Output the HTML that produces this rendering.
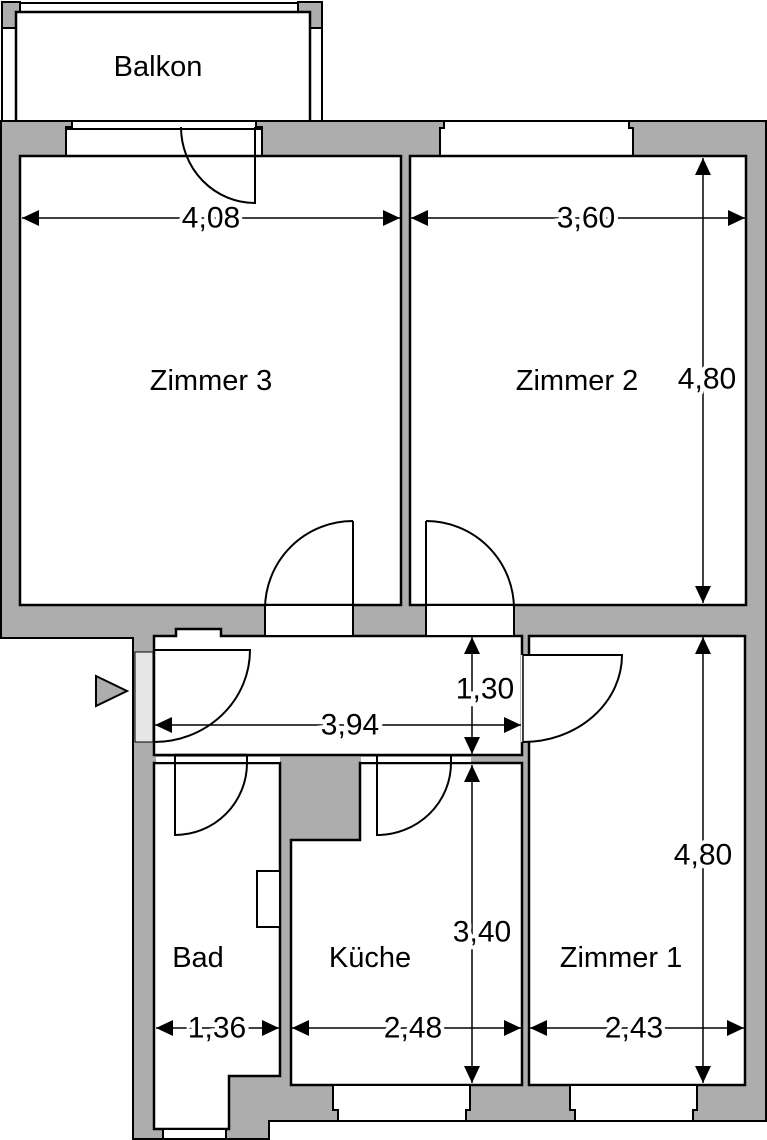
<!DOCTYPE html>
<html><head><meta charset="utf-8"><style>
html,body{margin:0;padding:0;background:#fff;}
svg{display:block;}
text{font-family:"Liberation Sans",sans-serif;font-size:29px;fill:#000;}
.d{paint-order:stroke;stroke:#fff;stroke-width:8px;text-anchor:middle;dominant-baseline:central;font-size:30px;}
.l{text-anchor:middle;dominant-baseline:central;}
</style></head><body>
<svg width="767" height="1140" viewBox="0 0 767 1140" xmlns="http://www.w3.org/2000/svg">
<defs>
<marker id="a" viewBox="0 0 17 16" refX="17" refY="8" markerWidth="17" markerHeight="16" markerUnits="userSpaceOnUse" orient="auto-start-reverse"><path d="M0,0 L17,8 L0,16 Z" fill="#000"/></marker>
</defs>
<!-- Balkon -->
<rect x="2" y="2" width="18" height="26" fill="#adadad" stroke="#000" stroke-width="2"/>
<rect x="298" y="2" width="24" height="26" fill="#adadad" stroke="#000" stroke-width="2"/>
<line x1="20" y1="3" x2="298" y2="3" stroke="#000" stroke-width="2"/>
<rect x="16" y="12" width="294" height="110" fill="#fff" stroke="#000" stroke-width="2.5"/>
<line x1="2" y1="28" x2="2" y2="120" stroke="#000" stroke-width="2"/>
<line x1="322" y1="28" x2="322" y2="120" stroke="#000" stroke-width="2"/>
<line x1="2" y1="28" x2="16" y2="28" stroke="#000" stroke-width="2"/>
<line x1="310" y1="28" x2="322" y2="28" stroke="#000" stroke-width="2"/>
<!-- outer gray -->
<path d="M1,121 H766 V1121 H269 V1139 H133 V638 H1 Z" fill="#adadad" stroke="#000" stroke-width="2"/>
<!-- windows top -->
<path d="M72,121 H256 V127 H262 V156 H66 V127 H72 Z" fill="#fff" stroke="#000" stroke-width="2"/>
<line x1="66" y1="129" x2="262" y2="129" stroke="#000" stroke-width="2"/>
<path d="M444,121 H629 V128 H633 V156 H440 V128 H444 Z" fill="#fff" stroke="#000" stroke-width="2"/>
<!-- rooms -->
<g fill="#fff" stroke="#000" stroke-width="2.5">
<rect x="20" y="156" width="381" height="449"/>
<rect x="410" y="156" width="336" height="449"/>
<path d="M154,636 H176 V629 H221 V636 H522 V755 H154 Z"/>
<rect x="529" y="636" width="216" height="449"/>
<path d="M154,763 H280 V1076 H229 V1129 H154 Z"/>
<path d="M291,840 H360 V763 H522 V1085 H291 Z"/>
</g>
<!-- openings Z3/Z2 doors -->
<rect x="266" y="606" width="86" height="29" fill="#fff"/>
<line x1="265" y1="604" x2="265" y2="636" stroke="#000" stroke-width="2"/>
<line x1="353" y1="521" x2="353" y2="636" stroke="#000" stroke-width="2"/>
<path d="M353,521 A88,88 0 0 0 265,609" fill="none" stroke="#000" stroke-width="2"/>
<rect x="427" y="606" width="86" height="29" fill="#fff"/>
<line x1="514" y1="604" x2="514" y2="636" stroke="#000" stroke-width="2"/>
<line x1="426" y1="521" x2="426" y2="636" stroke="#000" stroke-width="2"/>
<path d="M426,521 A88,88 0 0 1 514,609" fill="none" stroke="#000" stroke-width="2"/>
<!-- balcony door -->
<path d="M255,127 V203 A74,76 0 0 1 181,127" fill="none" stroke="#000" stroke-width="2"/>
<!-- entrance -->
<rect x="135" y="652" width="18" height="90" fill="#e6e6e6" stroke="#000" stroke-width="1"/>
<path d="M154,650 H250 A96,92 0 0 1 154,742" fill="none" stroke="#000" stroke-width="2"/>
<path d="M96,676 L127,691 L96,706 Z" fill="#adadad" stroke="#000" stroke-width="2"/>
<!-- Zimmer1 door -->
<rect x="521" y="655" width="10" height="87" fill="#fff"/>
<path d="M523,655 H622 A99,87 0 0 1 523,742" fill="none" stroke="#000" stroke-width="2"/>
<line x1="523" y1="655" x2="523" y2="742" stroke="#000" stroke-width="1.5"/>
<!-- Bad / Kueche doors -->
<rect x="156" y="757" width="124" height="5" fill="#fff"/>
<rect x="361" y="757" width="110" height="5" fill="#fff"/>
<line x1="175" y1="755" x2="247" y2="755" stroke="#000" stroke-width="2.5"/>
<path d="M175,756 V835 A72,72 0 0 0 247,763 V756" fill="none" stroke="#000" stroke-width="2"/>
<path d="M377,756 V835 A74,72 0 0 0 451,763 V756" fill="none" stroke="#000" stroke-width="2"/>
<!-- Bad niche -->
<rect x="257" y="871" width="23" height="56" fill="#fff" stroke="#000" stroke-width="2"/>
<!-- bottom windows -->
<rect x="163" y="1129" width="63" height="10" fill="#fff" stroke="#000" stroke-width="2"/>
<path d="M333,1085 H470 V1110 H466 V1121 H338 V1110 H333 Z" fill="#fff" stroke="#000" stroke-width="2"/>
<path d="M570,1085 H697 V1110 H693 V1121 H575 V1110 H570 Z" fill="#fff" stroke="#000" stroke-width="2"/>
<!-- dimensions -->
<g stroke="#000" stroke-width="1.5" marker-start="url(#a)" marker-end="url(#a)">
<line x1="22" y1="218" x2="400" y2="218"/>
<line x1="411" y1="218" x2="745" y2="218"/>
<line x1="703" y1="158" x2="703" y2="603"/>
<line x1="155" y1="725" x2="521" y2="725"/>
<line x1="472" y1="637" x2="472" y2="754"/>
<line x1="472" y1="765" x2="472" y2="1083"/>
<line x1="703" y1="637" x2="703" y2="1083"/>
<line x1="156" y1="1028" x2="279" y2="1028"/>
<line x1="292" y1="1028" x2="521" y2="1028"/>
<line x1="530" y1="1028" x2="744" y2="1028"/>
</g>
<text class="d" x="211" y="218">4,08</text>
<text class="d" x="586" y="218">3,60</text>
<text class="d" x="707" y="379">4,80</text>
<text class="d" x="350" y="725">3,94</text>
<text class="d" x="485" y="689">1,30</text>
<text class="d" x="482" y="932">3,40</text>
<text class="d" x="703" y="855">4,80</text>
<text class="d" x="217" y="1028">1,36</text>
<text class="d" x="413" y="1028">2,48</text>
<text class="d" x="634" y="1028">2,43</text>
<text class="l" x="158" y="67">Balkon</text>
<text class="l" x="211" y="381">Zimmer 3</text>
<text class="l" x="577" y="381">Zimmer 2</text>
<text class="l" x="198" y="958">Bad</text>
<text class="l" x="370" y="958">Küche</text>
<text class="l" x="621" y="958">Zimmer 1</text>
</svg>
</body></html>
